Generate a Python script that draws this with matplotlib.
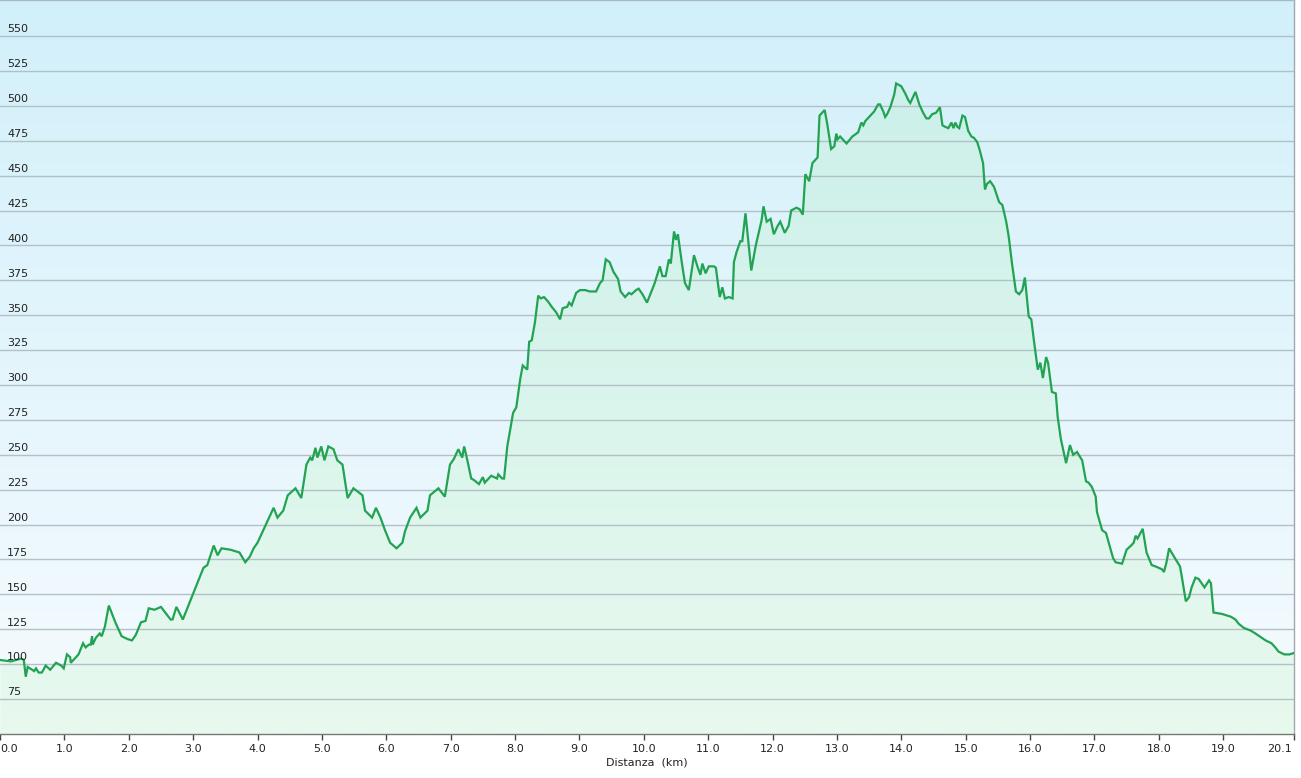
import numpy as np
import matplotlib
matplotlib.use("Agg")
import matplotlib.pyplot as plt
from matplotlib.transforms import blended_transform_factory, ScaledTranslation

# Elevation profile data (distance in km, elevation in m)
dist_km = [
    0.0, 0.17, 0.33, 0.37, 0.40, 0.43, 0.50, 0.53, 0.56, 0.60, 0.65, 0.71, 0.78, 0.87, 0.95,
    0.99, 1.04, 1.09, 1.10, 1.22, 1.29, 1.33, 1.38, 1.41, 1.43, 1.44, 1.49, 1.55, 1.58, 1.63,
    1.69, 1.80, 1.89, 1.98, 2.05, 2.11, 2.19, 2.26, 2.31, 2.40, 2.50, 2.65, 2.68, 2.74, 2.84,
    3.16, 3.22, 3.32, 3.38, 3.44, 3.58, 3.72, 3.81, 3.88, 3.94, 4.00, 4.08, 4.16, 4.25, 4.31,
    4.40, 4.47, 4.59, 4.68, 4.76, 4.82, 4.85, 4.90, 4.93, 4.99, 5.04, 5.10, 5.18, 5.24, 5.32,
    5.40, 5.49, 5.63, 5.67, 5.78, 5.84, 5.91, 5.98, 6.06, 6.16, 6.25, 6.29, 6.37, 6.47, 6.53,
    6.64, 6.68, 6.81, 6.91, 6.99, 7.05, 7.12, 7.18, 7.21, 7.26, 7.32, 7.36, 7.44, 7.50, 7.53,
    7.63, 7.72, 7.74, 7.80, 7.83, 7.88, 7.97, 8.02, 8.08, 8.12, 8.19, 8.22, 8.26, 8.31, 8.36,
    8.40, 8.45, 8.51, 8.57, 8.64, 8.70, 8.74, 8.81, 8.84, 8.88, 8.95, 9.01, 9.09, 9.16, 9.26,
    9.32, 9.36, 9.41, 9.47, 9.53, 9.60, 9.64, 9.71, 9.77, 9.81, 9.88, 9.92, 9.98, 10.05, 10.11,
    10.17, 10.25, 10.29, 10.34, 10.39, 10.42, 10.47, 10.50, 10.53, 10.59, 10.64, 10.70, 10.78,
    10.84, 10.88, 10.91, 10.96, 11.01, 11.09, 11.12, 11.18, 11.22, 11.26, 11.32, 11.38, 11.40,
    11.44, 11.50, 11.53, 11.58, 11.63, 11.67, 11.74, 11.83, 11.86, 11.91, 11.97, 12.02, 12.08,
    12.12, 12.19, 12.25, 12.29, 12.37, 12.42, 12.47, 12.51, 12.57, 12.62, 12.70, 12.73, 12.81,
    12.85, 12.91, 12.96, 12.99, 13.01, 13.05, 13.15, 13.24, 13.30, 13.33, 13.38, 13.41, 13.44,
    13.58, 13.64, 13.67, 13.72, 13.75, 13.78, 13.83, 13.89, 13.92, 14.00, 14.06, 14.11, 14.14,
    14.22, 14.28, 14.34, 14.39, 14.43, 14.48, 14.54, 14.60, 14.64, 14.68, 14.73, 14.78, 14.81,
    14.84, 14.87, 14.90, 14.95, 14.99, 15.04, 15.09, 15.13, 15.18, 15.22, 15.27, 15.30, 15.33,
    15.38, 15.44, 15.52, 15.57, 15.63, 15.67, 15.72, 15.78, 15.83, 15.88, 15.92, 15.98, 16.02,
    16.06, 16.12, 16.16, 16.20, 16.25, 16.28, 16.34, 16.40, 16.43, 16.48, 16.56, 16.62, 16.67,
    16.73, 16.81, 16.87, 16.91, 16.96, 17.02, 17.04, 17.12, 17.18, 17.29, 17.33, 17.43, 17.50,
    17.57, 17.61, 17.64, 17.67, 17.75, 17.81, 17.89, 17.95, 18.05, 18.08, 18.12, 18.16, 18.25,
    18.33, 18.36, 18.42, 18.47, 18.51, 18.57, 18.62, 18.71, 18.78, 18.81, 18.85, 18.98, 19.12,
    19.19, 19.24, 19.32, 19.43, 19.50, 19.66, 19.75, 19.81, 19.86, 19.95, 20.03, 20.10,
]
elev_m = [
    103, 102, 104, 103, 91, 98, 96, 95, 97, 94, 94, 99, 96, 101, 99,
    97, 107, 105, 101, 107, 115, 112, 114, 114, 120, 114, 119, 122, 120, 127,
    142, 129, 120, 118, 117, 121, 130, 131, 140, 139, 141, 132, 132, 141, 132,
    169, 171, 185, 178, 183, 182, 180, 173, 177, 183, 187, 195, 203, 212, 205,
    210, 221, 226, 219, 243, 248, 246, 255, 248, 256, 246, 256, 254, 246, 243,
    219, 226, 221, 210, 205, 212, 205, 196, 187, 183, 187, 195, 205, 212, 205,
    210, 221, 226, 220, 243, 247, 254, 248, 256, 246, 233, 232, 229, 234, 230,
    235, 233, 236, 233, 233, 256, 280, 284, 304, 314, 311, 331, 332, 345, 364,
    362, 363, 360, 356, 352, 347, 355, 356, 359, 357, 366, 368, 368, 367, 367,
    373, 375, 390, 388, 381, 376, 367, 363, 366, 365, 368, 369, 365, 359, 366,
    373, 385, 378, 378, 390, 387, 410, 404, 408, 388, 373, 368, 393,
    384, 379, 387, 380, 385, 385, 384, 363, 370, 362, 363, 362, 388,
    395, 403, 403, 423, 400, 382, 400, 418, 428, 417, 419, 408, 414,
    417, 409, 414, 425, 427, 426, 422, 451, 446, 459, 463, 493, 497,
    487, 469, 471, 480, 476, 478, 473, 478, 480, 481, 488, 486, 489,
    496, 501, 501, 496, 492, 494, 499, 508, 516, 514, 509, 504, 502,
    510, 501, 495, 491, 491, 494, 495, 499, 486, 485, 484, 488, 484,
    488, 485, 484, 493, 492, 482, 478, 477, 474, 468, 459, 440, 444,
    446, 442, 431, 429, 417, 406, 387, 367, 365, 368, 377, 349, 347,
    332, 311, 316, 305, 320, 316, 295, 294, 277, 261, 244, 257, 250,
    252, 246, 231, 230, 227, 220, 209, 196, 194, 176, 173, 172, 182,
    185, 187, 192, 190, 197, 180, 171, 170, 168, 166, 173, 183, 176,
    170, 162, 145, 148, 155, 162, 161, 155, 160, 158, 137, 136, 134,
    132, 129, 126, 124, 122, 117, 115, 112, 109, 107, 107, 108,
]

x_ticks = list(range(20)) + [20.1]
x_tick_labels = [f"{t:.1f}" for t in x_ticks]
y_grid = list(range(75, 551, 25))

fig = plt.figure(figsize=(13.01, 7.78), dpi=100)
ax = fig.add_axes([0.0, 0.0566, 0.9946, 0.9434])

x0, x1 = 0.0, 20.1
y0, y1 = 50.0, 575.8
ax.set_xlim(x0, x1)
ax.set_ylim(y0, y1)

# background gradient: light blue at top to almost white at bottom
top = np.array([210, 240, 250]) / 255
bottom = np.array([246, 251, 254]) / 255
t = np.linspace(0, 1, 256)[:, None]
grad = (top * (1 - t) + bottom * t)[:, None, :]
ax.imshow(grad, extent=[x0, x1, y0, y1], aspect="auto", origin="upper", zorder=0)

# area under the profile
ax.fill_between(dist_km, elev_m, y0, color="#8cf082", alpha=0.13, lw=0, zorder=1)

# horizontal grid lines with labels inside the plot
trans = blended_transform_factory(ax.transAxes, ax.transData)
for v in y_grid:
    ax.axhline(v, color="#b2c0c8", lw=1.0, zorder=2)
    ax.text(0.0055, v + 1.2, str(v), transform=trans, ha="left", va="bottom",
            fontsize=8, color="#222222", zorder=4)

ax.plot(dist_km, elev_m, color="#22a352", lw=1.6, zorder=3, solid_joinstyle="miter")

ax.set_xticks(x_ticks)
ax.set_xticklabels(x_tick_labels)
ax.set_yticks([])
ax.tick_params(axis="x", direction="out", length=4, width=1, color="#444444",
               labelsize=8, labelcolor="#222222", pad=3)
ax.set_xlabel("Distanza  (km)", fontsize=8, color="#222222", labelpad=3)

# nudge the first and last tick labels so they stay inside the figure
labels = ax.get_xticklabels()
labels[0].set_transform(labels[0].get_transform() + ScaledTranslation(0.09, 0, fig.dpi_scale_trans))
labels[-1].set_transform(labels[-1].get_transform() + ScaledTranslation(-0.14, 0, fig.dpi_scale_trans))

ax.spines["left"].set_visible(False)
ax.spines["top"].set_color("#a9b9c2")
ax.spines["right"].set_color("#a0a8ae")
ax.spines["bottom"].set_color("#777777")
for s in ["top", "right", "bottom"]:
    ax.spines[s].set_linewidth(1.0)

fig.savefig("out.png", dpi=100)
